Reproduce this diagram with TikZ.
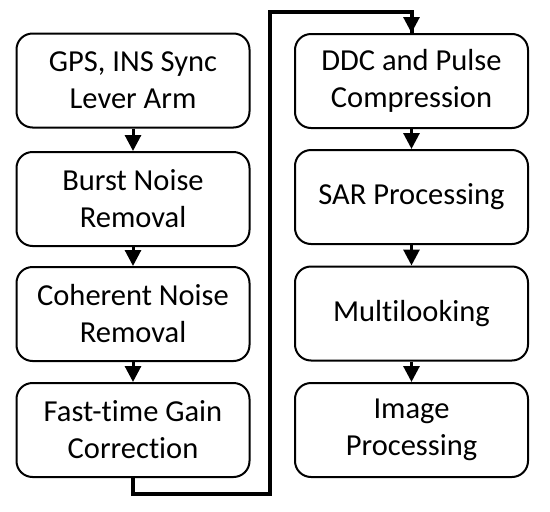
\documentclass[tikz,border=0pt]{standalone}
\usepackage{fontspec}
\setmainfont{Carlito}[RawFeature=-liga]
\usetikzlibrary{arrows.meta}
\begin{document}
\begin{tikzpicture}[x=1pt,y=-1pt,
  stepbox/.style={draw=black, line width=2pt, rounded corners=16pt, minimum width=233pt, minimum height=94pt, align=center, font=\fontsize{30.5}{37}\selectfont, inner sep=0pt},
  conn/.style={line width=3pt, -{Triangle[length=16pt,width=16pt]}}]
\useasboundingbox (0,0) rectangle (550,512);
\node[stepbox] (a1) at (133,80.5) {GPS, INS Sync\\Lever Arm};
\node[stepbox] (a2) at (133,199) {Burst Noise\\Removal};
\node[stepbox] (a3) at (133,314) {Coherent Noise\\Removal};
\node[stepbox] (a4) at (133,430) {Fast-time Gain\\Correction};
\node[stepbox] (b1) at (411.5,81) {DDC and Pulse\\Compression};
\node[stepbox] (b2) at (411.5,197) {SAR Processing};
\node[stepbox] (b3) at (411.5,313.5) {Multilooking};
\node[stepbox] (b4) at (411.5,430) {Image\\Processing};
\draw[conn] (a1) -- (a2);
\draw[conn] (a2) -- (a3);
\draw[conn] (a3) -- (a4);
\draw[conn] (b1) -- (b2);
\draw[conn] (b2) -- (b3);
\draw[conn] (b3) -- (b4);
\coordinate (c1) at (133,494);
\coordinate (c2) at (270,494);
\coordinate (c3) at (270,12);
\coordinate (c4) at (411.5,12);
\draw[line width=4pt, line join=miter] (a4.south) -- (c1) -- (c2) -- (c3) -- (c4) -- ([yshift=-1pt]c4 |- b1.north) ;
\draw[conn] (c4) -- (b1.north);
\end{tikzpicture}
\end{document}
